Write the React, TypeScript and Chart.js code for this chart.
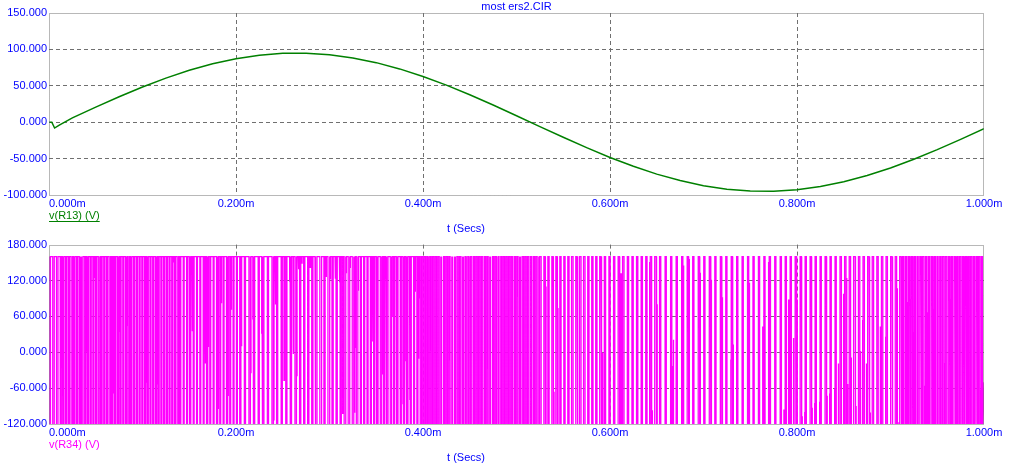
import React, { useEffect, useRef } from "react";
import { Chart, registerables } from "chart.js";

Chart.register(...registerables);

// ---------- text ----------
const TITLE = "most ers2.CIR";
const X_AXIS_TITLE = "t (Secs)";
const TOP_LABEL = "v(R13) (V)";
const BOTTOM_LABEL = "v(R34) (V)";
const X_TICKS = [0, 0.2, 0.4, 0.6, 0.8, 1.0]; // ms

// ---------- top trace: v(R13) ----------
const sineTimes = [
  0, 0.003, 0.006, 0.011, 0.025, 0.05, 0.075, 0.1, 0.125, 0.15, 0.175, 0.2,
  0.225, 0.25, 0.275, 0.3, 0.325, 0.35, 0.375, 0.4, 0.425, 0.45, 0.475, 0.5,
  0.525, 0.55, 0.575, 0.6, 0.625, 0.65, 0.675, 0.7, 0.725, 0.75, 0.775, 0.8,
  0.825, 0.85, 0.875, 0.9, 0.925, 0.95, 0.975, 1.0,
];
const sineValues = [
  0, 0, -8, -4, 6, 20.7, 35, 48.4, 60.6, 71.3, 80.2, 87.2,
  92, 94.6, 94.8, 92.7, 88.3, 81.8, 73.2, 62.8, 50.9, 37.7, 23.6, 8.9,
  -6, -20.7, -35, -48.4, -60.6, -71.3, -80.2, -87.2, -92, -94.6, -94.8, -92.7,
  -88.3, -81.8, -73.2, -62.8, -50.9, -37.7, -23.6, -8.9,
];

// ---------- bottom trace: v(R34) (PWM) ----------
const pwmSegStart = [0, 0.012, 0.076, 0.14, 0.204, 0.268, 0.333, 0.397, 0.461, 0.525, 0.589, 0.653, 0.718, 0.782, 0.846, 0.91, 0.974, 1.0];
const pwmSegCount = [3, 22, 22, 18, 13, 15, 18, 22, 22, 15, 13, 11, 11, 12, 13, 21, 9];
const pwmSegDuty = [0.6, 0.6, 0.62, 0.72, 0.75, 0.7, 0.68, 0.5, 0.5, 0.32, 0.28, 0.22, 0.22, 0.25, 0.3, 0.45, 0.45];
const pwmHigh = 160;
const pwmLow = -160;
const pwmStartValue = 17;
const pwmEndValue = -50;
const glitchTimes = [
  0.0146, 0.0243, 0.026, 0.0339, 0.041, 0.0485, 0.0545, 0.0652, 0.0688, 0.0741, 0.083, 0.086, 0.0875,
  0.1045, 0.1144, 0.133, 0.138, 0.15, 0.153, 0.167, 0.17, 0.18, 0.183, 0.191, 0.194, 0.204, 0.215, 0.218,
  0.2275, 0.239, 0.242, 0.2513, 0.2578, 0.261, 0.264, 0.2667,
  0.2702, 0.2791, 0.2845, 0.2906, 0.2963, 0.3005, 0.3059, 0.3105, 0.3141, 0.3176, 0.3212, 0.3247, 0.327, 0.3288,
  0.346, 0.35, 0.356, 0.36, 0.3665, 0.372, 0.379, 0.3818, 0.386, 0.39, 0.394, 0.396,
  0.4057, 0.4085, 0.418, 0.421, 0.428, 0.431, 0.434, 0.4425, 0.446, 0.449, 0.453, 0.464, 0.4674, 0.47, 0.473,
  0.4795, 0.482, 0.497, 0.4995, 0.503, 0.5144, 0.517, 0.524,
  0.5305, 0.539, 0.5437, 0.559, 0.5636, 0.567, 0.5715, 0.589, 0.591, 0.609, 0.6107, 0.612, 0.643, 0.645, 0.648, 0.65,
  0.665, 0.6667, 0.677, 0.684, 0.6955, 0.707, 0.7187, 0.729, 0.7305, 0.748, 0.763, 0.7645, 0.77,
  0.786, 0.791, 0.7925, 0.796, 0.798, 0.804, 0.8086, 0.8146, 0.819, 0.8246, 0.83, 0.835, 0.8406, 0.844,
  0.8495, 0.851, 0.853, 0.857, 0.8605, 0.862, 0.866, 0.8705, 0.874, 0.878, 0.8888, 0.8952, 0.901, 0.9066,
  0.909, 0.911, 0.9173, 0.9208, 0.9237, 0.9335, 0.936, 0.9387, 0.944, 0.9465, 0.9555, 0.958, 0.9625, 0.9695,
  0.9735, 0.977, 0.9815, 0.9855, 0.9914, 0.9938, 0.997,
];
const glitchLevels = [
  38, -9, 135, 13, 2, 124, 8, 51, -69, 35, 45, -72, -23,
  -50, -53, 150, 142, -68, 35, -19, 10, -94, 82, -72, 71, 10, -34, 56,
  32, -113, 80, -47, 119, -3, -39, 139,
  149, 142, 135, 133, 126, 123, 123, 117, -102, 133, 142, -100, 8, 104,
  18, 38, -36, 124, 60, 35, -86, -14, -80, 101, -11, 90,
  -28, 2, 57, -67, -14, 79, 150, 134, 51, -25, -94, -86, -28, 43, 115,
  79, -19, -47, 93, 35, 84, -115, 79,
  109, -67, 73, -102, -47, -42, -83, 120, -1, -28, 131, -105, 150, -97, -66, 79,
  -23, 21, 145, 155, 132, 120, 91, -12, 12, 116, 43, 10, 150,
  -97, 87, 13, 24, 87, -108, -100, -94, -85, -83, -74, -69, -61, -19,
  98, 124, -53, -9, -102, -91, 2, 54, -19, -102, 43, 26, -83, 107,
  -118, 49, 84, 87, 32, -58, -56, 67, 71, -42, -19, -19, 87, 112,
  13, -102, -25, 107, 141, 98, -64,
];

// ---------- styles ----------
const FONT = '"Liberation Sans", Arial, sans-serif';
const BLUE = "#0000ff";
const GREEN = "#008000";
const MAGENTA = "#ff00ff";
const GRID = "#707070";

type Pt = { x: number; y: number };

function buildSine(): Pt[] {
  return sineTimes.map((t, i) => ({ x: t, y: sineValues[i] }));
}

function buildPwm(): Pt[] {
  const pts: Pt[] = [{ x: 0, y: pwmStartValue }];
  const glitches = glitchTimes.map((t, i) => ({ t, v: glitchLevels[i] })).sort((a, b) => a.t - b.t);
  let gi = 0;
  for (let s = 0; s < pwmSegCount.length; s++) {
    const a = pwmSegStart[s];
    const b = pwmSegStart[s + 1];
    const n = pwmSegCount[s];
    const d = pwmSegDuty[s];
    const P = (b - a) / n;
    const highDom = d >= 0.5;
    const dom = highDom ? pwmHigh : pwmLow;
    const minr = highDom ? pwmLow : pwmHigh;
    const m = highDom ? 1 - d : d;
    for (let k = 0; k < n; k++) {
      const t0 = a + k * P;
      const t1 = t0 + m * P;
      pts.push({ x: t0, y: dom }, { x: t0, y: minr }, { x: t1, y: minr }, { x: t1, y: dom });
      const w = Math.min(0.0005, (P - m * P) / 5);
      let cursor = t1 + w;
      while (gi < glitches.length && glitches[gi].t < t0 + P) {
        const g = glitches[gi];
        let ts = Math.max(g.t, cursor);
        if (ts + w > t0 + P - w * 0.5) ts = t0 + P - w * 1.5;
        if (ts >= cursor - 1e-9) {
          pts.push({ x: ts, y: dom }, { x: ts, y: g.v }, { x: ts + w, y: g.v }, { x: ts + w, y: dom });
          cursor = ts + 2 * w;
        }
        gi++;
      }
    }
  }
  pts.push({ x: 1.0, y: pwmEndValue });
  return pts;
}

type PanelCfg = {
  height: number;
  plotTop: number;
  plotBottom: number;
  yMin: number;
  yMax: number;
  yStep: number;
  color: string;
  lineWidth: number;
  data: Pt[];
  label: string;
  underline: boolean;
  title?: string;
};

function makeChart(canvas: HTMLCanvasElement, cfg: PanelCfg): Chart {
  const overlay = {
    id: "overlay",
    afterDraw(chart: any) {
      const { ctx, chartArea } = chart;
      const xs = chart.scales.x;
      ctx.save();
      // dotted frame
      ctx.strokeStyle = GRID;
      ctx.lineWidth = 1;
      ctx.setLineDash([1, 1]);
      ctx.strokeRect(
        Math.round(chartArea.left) + 0.5,
        Math.round(chartArea.top) + 0.5,
        Math.round(chartArea.right - chartArea.left) - 1,
        Math.round(chartArea.bottom - chartArea.top)
      );
      ctx.setLineDash([]);
      ctx.font = `11px ${FONT}`;
      ctx.textBaseline = "middle";
      ctx.fillStyle = BLUE;
      // x tick labels
      X_TICKS.forEach((v, i) => {
        const px = xs.getPixelForValue(v);
        const txt = v.toFixed(3) + "m";
        if (i === 0) {
          ctx.textAlign = "left";
          ctx.fillText(txt, chartArea.left, chartArea.bottom + 9);
        } else {
          ctx.textAlign = "center";
          ctx.fillText(txt, px, chartArea.bottom + 9);
        }
      });
      // axis title
      ctx.textAlign = "center";
      ctx.fillText(X_AXIS_TITLE, 466, chartArea.bottom + 34);
      // chart title
      if (cfg.title) {
        ctx.fillText(cfg.title, (chartArea.left + chartArea.right) / 2, 7);
      }
      // trace label
      ctx.fillStyle = cfg.color;
      ctx.textAlign = "left";
      ctx.fillText(cfg.label, chartArea.left, chartArea.bottom + 21);
      if (cfg.underline) {
        const w = ctx.measureText(cfg.label).width;
        ctx.strokeStyle = cfg.color;
        ctx.beginPath();
        ctx.moveTo(chartArea.left, chartArea.bottom + 26.5);
        ctx.lineTo(chartArea.left + w, chartArea.bottom + 26.5);
        ctx.stroke();
      }
      ctx.restore();
    },
  };

  const edgeHidden = (min: number, max: number) => (c: any) => {
    const v = c.tick ? c.tick.value : 0;
    return Math.abs(v - min) < 1e-9 || Math.abs(v - max) < 1e-9 ? "rgba(0,0,0,0)" : GRID;
  };

  return new Chart(canvas, {
    type: "line",
    data: {
      datasets: [
        {
          data: cfg.data as any,
          borderColor: cfg.color,
          borderWidth: cfg.lineWidth,
          pointRadius: 0,
          tension: 0,
          fill: false,
        },
      ],
    },
    options: {
      animation: false,
      responsive: false,
      devicePixelRatio: 1,
      parsing: false,
      normalized: true,
      events: [],
      layout: { padding: { top: cfg.plotTop, right: 27, left: 0, bottom: 0 } },
      plugins: { legend: { display: false }, tooltip: { enabled: false }, title: { display: false } },
      scales: {
        x: {
          type: "linear",
          min: 0,
          max: 1,
          ticks: { display: false, stepSize: 0.2 },
          grid: { color: edgeHidden(0, 1) as any, drawTicks: false, lineWidth: 1 },
          border: { display: false, dash: [4, 3] },
          afterFit: (s: any) => {
            s.height = cfg.height - cfg.plotBottom;
          },
        },
        y: {
          type: "linear",
          min: cfg.yMin,
          max: cfg.yMax,
          ticks: {
            stepSize: cfg.yStep,
            autoSkip: false,
            padding: 2,
            color: BLUE,
            font: { family: FONT, size: 11 },
            callback: (v: any) => Number(v).toFixed(3),
          },
          grid: { color: edgeHidden(cfg.yMin, cfg.yMax) as any, drawTicks: false, lineWidth: 1 },
          border: { display: false, dash: [4, 3] },
          afterFit: (s: any) => {
            s.width = 49;
          },
        },
      },
    },
    plugins: [overlay],
  });
}

export default function App() {
  const topRef = useRef<HTMLCanvasElement>(null);
  const botRef = useRef<HTMLCanvasElement>(null);

  useEffect(() => {
    document.body.style.margin = "0";
    document.body.style.background = "#ffffff";
    const top = makeChart(topRef.current!, {
      height: 236,
      plotTop: 13,
      plotBottom: 195,
      yMin: -100,
      yMax: 150,
      yStep: 50,
      color: GREEN,
      lineWidth: 1.5,
      data: buildSine(),
      label: TOP_LABEL,
      underline: true,
      title: TITLE,
    });
    const bot = makeChart(botRef.current!, {
      height: 233,
      plotTop: 6,
      plotBottom: 188,
      yMin: -120,
      yMax: 180,
      yStep: 60,
      color: MAGENTA,
      lineWidth: 1.3,
      data: buildPwm(),
      label: BOTTOM_LABEL,
      underline: false,
    });
    return () => {
      top.destroy();
      bot.destroy();
    };
  }, []);

  return (
    <div style={{ width: 1011, height: 469, background: "#fff" }}>
      <canvas ref={topRef} width={1011} height={236} style={{ display: "block" }} />
      <canvas ref={botRef} width={1011} height={233} style={{ display: "block" }} />
    </div>
  );
}
